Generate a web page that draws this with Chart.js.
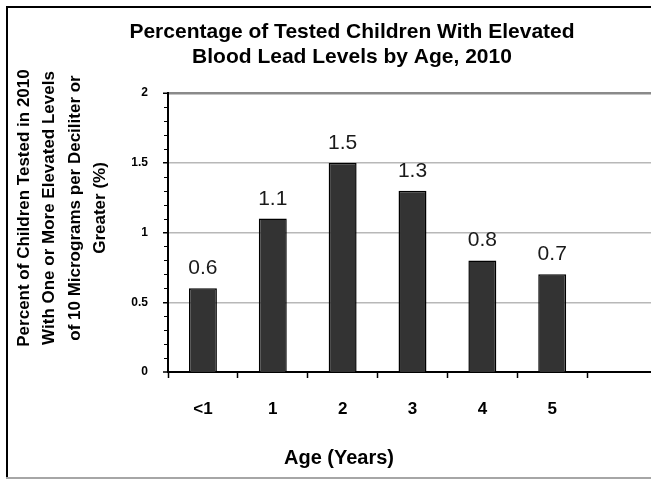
<!DOCTYPE html>
<html>
<head>
<meta charset="utf-8">
<script src="https://cdn.jsdelivr.net/npm/chart.js@4/dist/chart.umd.min.js"></script>
<style>
  html, body { margin: 0; padding: 0; overflow: hidden; background: #fff; }
  #wrap { position: relative; width: 660px; height: 479px; }
</style>
</head>
<body>
<div id="wrap"><canvas id="c" width="660" height="479"></canvas></div>
<script>
// Age groups (the last slot is an empty category, as in the original layout)
const ageLabels = ['<1', '1', '2', '3', '4', '5', ''];
// Percent of tested children with elevated blood lead levels, 2010
const pctElevated = [0.6, 1.1, 1.5, 1.3, 0.8, 0.7, null];
// Y axis range and step
const yMin = 0, yMax = 2, yStep = 0.5, yMinorStep = 0.1;

const titleLines = ['Percentage of Tested Children With Elevated', 'Blood Lead Levels by Age, 2010'];
const yTitleLines = ['Percent of Children Tested in 2010', 'With One or More Elevated Levels',
                     'of 10 Micrograms per Deciliter or', 'Greater (%)'];
const xTitle = 'Age (Years)';

const FONT = '"Liberation Sans", Arial, sans-serif';

// Titles, value labels, minor ticks and the outer frame
const decorations = {
  id: 'decorations',
  afterDatasetsDraw(chart) {
    const ctx = chart.ctx;
    const meta = chart.getDatasetMeta(0);
    ctx.save();
    ctx.fillStyle = '#1a1a1a';
    ctx.font = '21px ' + FONT;
    ctx.textAlign = 'center';
    ctx.textBaseline = 'alphabetic';
    meta.data.forEach((bar, i) => {
      const v = pctElevated[i];
      if (v === null || v === undefined) return;
      ctx.fillText(String(v), bar.x, bar.y - 14);
    });
    ctx.restore();
  },
  afterDraw(chart) {
    const ctx = chart.ctx;
    const yScale = chart.scales.y;
    const area = chart.chartArea;
    ctx.save();

    // minor tick marks on the value axis
    ctx.strokeStyle = '#000';
    ctx.lineWidth = 1;
    for (let k = 1; k * yMinorStep < yMax - 1e-9; k++) {
      const v = k * yMinorStep;
      if (Math.abs(v / yStep - Math.round(v / yStep)) < 1e-6) continue;
      const py = Math.round(yScale.getPixelForValue(v)) + 0.5;
      ctx.beginPath();
      ctx.moveTo(area.left - 4, py);
      ctx.lineTo(area.left, py);
      ctx.stroke();
    }

    // chart title
    ctx.fillStyle = '#000';
    ctx.textAlign = 'center';
    ctx.textBaseline = 'middle';
    ctx.font = 'bold 21px ' + FONT;
    titleLines.forEach((t, i) => ctx.fillText(t, 352, 32 + i * 25));

    // x axis title
    ctx.font = 'bold 20px ' + FONT;
    ctx.fillText(xTitle, 339, 458);

    // y axis title (rotated)
    ctx.save();
    ctx.translate(0, 208);
    ctx.rotate(-Math.PI / 2);
    ctx.font = 'bold 17px ' + FONT;
    yTitleLines.forEach((t, i) => ctx.fillText(t, 0, 24 + i * 25.5));
    ctx.restore();

    // outer frame
    ctx.fillStyle = '#000';
    ctx.fillRect(6, 6, 2, 473);
    ctx.fillRect(6, 6, 660, 2);
    ctx.fillStyle = '#a6a6a6';
    ctx.fillRect(6, 477, 660, 2);
    ctx.restore();
  }
};

new Chart(document.getElementById('c'), {
  type: 'bar',
  data: {
    labels: ageLabels,
    datasets: [{
      data: pctElevated,
      backgroundColor: '#333333',
      borderColor: '#000000',
      borderWidth: 1.5,
      categoryPercentage: 1,
      barPercentage: 0.4
    }]
  },
  options: {
    responsive: false,
    animation: false,
    devicePixelRatio: 1,
    layout: { padding: { left: 8, top: 93, right: 3, bottom: 0 } },
    plugins: { legend: { display: false }, title: { display: false }, tooltip: { enabled: false } },
    scales: {
      x: {
        afterFit(s) { s.height = 107; },
        grid: { drawOnChartArea: false, drawTicks: true, tickLength: 6, tickColor: '#000', tickWidth: 1.5 },
        border: { display: true, color: '#000', width: 2 },
        ticks: { color: '#000', font: { family: FONT, size: 17, weight: 'bold' }, padding: 21 }
      },
      y: {
        min: yMin, max: yMax,
        afterFit(s) { s.width = 160; },
        grid: {
          display: true,
          drawOnChartArea: true,
          color: ['#ffffff', '#b8b8b8', '#b8b8b8', '#b8b8b8', '#8a8a8a'],
          lineWidth: [0, 1.5, 1.5, 1.5, 2.5],
          tickColor: '#000', tickLength: 5, drawTicks: true, tickWidth: 1.5
        },
        border: { display: true, color: '#000', width: 2 },
        ticks: {
          stepSize: yStep,
          color: '#000',
          font: { family: FONT, size: 12, weight: 'bold' },
          padding: 15,
          callback: (v) => String(v)
        }
      }
    }
  },
  plugins: [decorations]
});
</script>
</body>
</html>
